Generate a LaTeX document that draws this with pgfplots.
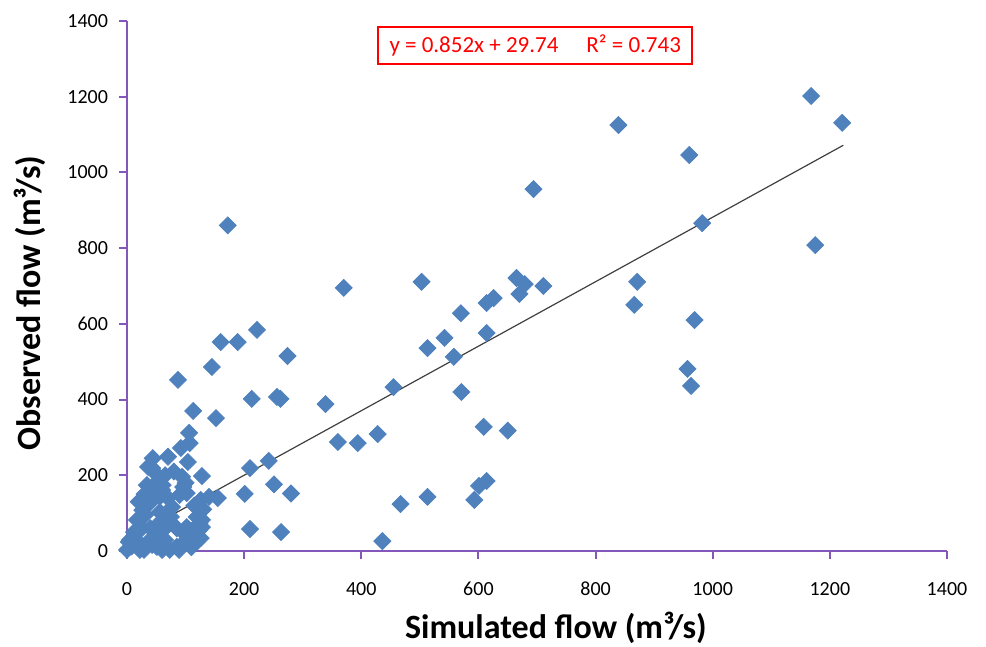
\documentclass[border=0pt]{standalone}
\usepackage{fontspec}
\setmainfont{Carlito}
\usepackage{pgfplots}
\pgfplotsset{compat=1.18}
\usepackage{pgfplotstable}
\definecolor{ptblue}{RGB}{79,129,189}
\definecolor{axpurple}{RGB}{134,87,186}

\pgfplotstableread{
x y
0 3
3 24
5 29
8 12
12 50
15 30
17 48
17 82
20 130
22 3
25 60
26 108
29 3
30 150
31 95
34 174
36 24
36 222
39 127
40 60
43 16
43 169
43 219
44 245
48 206
50 40
50 180
51 11
55 74
56 103
56 143
60 161
60 3
61 174
65 29
65 60
65 200
70 140
70 249
73 3
75 90
77 116
80 210
85 11
85 60
87 452
89 3
90 148
92 272
94 196
95 20
96 169
97 48
100 180
102 63
102 153
104 37
104 235
106 312
107 285
110 10
111 37
113 370
115 120
119 24
119 90
123 55
124 74
126 34
126 135
128 198
128 82
128 63
130 110
140 143
145 486
152 351
155 140
160 552
172 860
189 552
201 151
210 219
210 58
213 402
222 584
242 238
251 176
256 407
262 402
263 50
274 515
280 152
339 388
360 288
370 695
394 285
428 309
436 26
455 433
467 124
503 711
513 536
513 143
542 563
558 513
570 628
571 420
593 135
601 172
609 328
614 655
614 576
614 185
626 668
650 318
665 721
670 679
679 705
694 956
711 700
839 1125
866 650
871 711
957 481
960 1046
963 436
969 610
982 866
1168 1202
1175 808
1221 1131
}\flowdata

\begin{document}
\begin{tikzpicture}
\useasboundingbox (-63.5pt,-48pt) rectangle (429.5pt,275.5pt);
\begin{axis}[
  at={(0,0)}, anchor=south west,
  scale only axis, width=410pt, height=265pt,
  xmin=0, xmax=1400, ymin=0, ymax=1400,
  xtick distance=200, ytick distance=200,
  axis x line=bottom, axis y line=left,
  axis line style={axpurple, line width=1pt, -},
  tick style={axpurple, line width=1pt},
  tick align=outside, major tick length=4pt,
  ticklabel style={font=\fontsize{10}{12}\selectfont},
  /pgf/number format/assume math mode=true,
  /pgf/number format/1000 sep={},
  xticklabel style={yshift=-8pt},
  yticklabel style={xshift=-2pt},
  xlabel={Simulated flow (m³/s)},
  ylabel={Observed flow (m³/s)},
  label style={font=\bfseries\fontsize{17}{20}\selectfont},
  xlabel style={at={(axis description cs:0.523,0)}, anchor=center, yshift=-38.5pt},
  ylabel style={at={(axis description cs:-0.118,0.468)}, anchor=center},
  clip=false,
]
\addplot[only marks, mark=square*, mark size=3pt,
  mark options={rotate=45, fill=ptblue, draw=ptblue}] table[x=x, y=y] {\flowdata};
\addplot[no marks, color=black!75, line width=0.6pt] coordinates {(0,29.74) (1223,1071.74)};
\node[draw=red, line width=0.8pt, text=red, minimum width=157pt, minimum height=18.5pt,
  inner sep=2pt, font=\fontsize{11.5}{13}\selectfont]
  at (axis cs:697,1335) {y = 0.852x + 29.74\hspace{14pt}R² = 0.743};
\end{axis}
\end{tikzpicture}
\end{document}
